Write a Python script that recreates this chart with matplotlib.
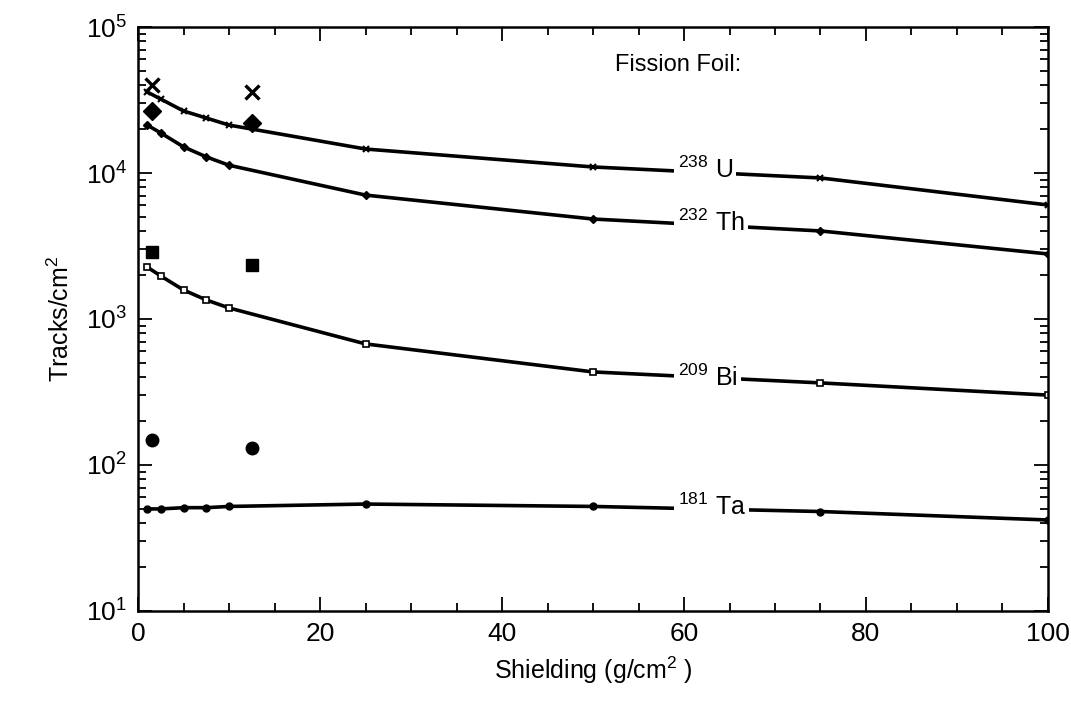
import matplotlib
matplotlib.use("Agg")
import matplotlib.pyplot as plt
import numpy as np
from matplotlib.ticker import LogLocator, MultipleLocator, NullFormatter

plt.rcParams['font.family'] = ['Liberation Sans', 'DejaVu Sans']
plt.rcParams['mathtext.fontset'] = 'custom'
plt.rcParams['mathtext.rm'] = 'Liberation Sans'
plt.rcParams['mathtext.it'] = 'Liberation Sans:italic'
plt.rcParams['mathtext.bf'] = 'Liberation Sans:bold'

# shielding depths (g/cm^2)
shielding = [1, 2.5, 5, 7.5, 10, 25, 50, 75, 100]

# calculated track densities per fission foil
u238 = [35900, 32100, 26600, 23800, 21300, 14600, 11000, 9250, 6040]
th232 = [21300, 18800, 15100, 12900, 11300, 7060, 4840, 4010, 2790]
bi209 = [2270, 1970, 1580, 1350, 1190, 675, 434, 365, 301]
ta181 = [50, 50, 51, 51, 52, 54, 52, 48, 42]

# measured points
meas_x = [1.5, 12.5]
meas_u = [40000, 35900]
meas_th = [26600, 22000]
meas_bi = [2880, 2340]
meas_ta = [148, 131]

# isotope labels: mass number, symbol, y pixel of symbol centre
labels = [
    ('238', 'U', 170),
    ('232', 'Th', 223),
    ('209', 'Bi', 378),
    ('181', 'Ta', 507),
]

fig = plt.figure(figsize=(10.71, 7.15), dpi=100)
ax = fig.add_axes([0.1289, 0.1455, 0.8496, 0.8167])

lw = 2.6
ax.plot(shielding, u238, color='black', lw=lw, marker='x', ms=5, mew=1.5)
ax.plot(shielding, th232, color='black', lw=lw, marker='D', ms=4)
ax.plot(shielding, bi209, color='black', lw=lw, marker='s', ms=5,
        mfc='white', mew=1.2)
ax.plot(shielding, ta181, color='black', lw=lw, marker='o', ms=5)

ax.plot(meas_x, meas_u, ls='none', marker='x', ms=10, mew=2.4, color='black')
ax.plot(meas_x, meas_th, ls='none', marker='D', ms=9, color='black')
ax.plot(meas_x, meas_bi, ls='none', marker='s', ms=9, color='black')
ax.plot(meas_x, meas_ta, ls='none', marker='o', ms=9, color='black')

ax.set_yscale('log')
ax.set_xlim(0, 100)
ax.set_ylim(10, 1e5)


def ypix_to_val(py):
    return 10 ** (5 - (py - 27) / 146.0)


# labels sit in gaps of the curves
for mass, sym, py in labels:
    ax.text(59.3, ypix_to_val(py), r'$^{%s}$' % mass + ' ' + sym,
            fontsize=18, ha='left', va='center',
            bbox=dict(facecolor='white', edgecolor='none', pad=2.5))

ax.text(52.4, ypix_to_val(65), 'Fission Foil:', fontsize=17,
        ha='left', va='center')

ax.xaxis.set_major_locator(MultipleLocator(20))
ax.xaxis.set_minor_locator(MultipleLocator(5))
ax.yaxis.set_major_locator(LogLocator(base=10, numticks=10))
ax.yaxis.set_minor_locator(LogLocator(base=10, subs=np.arange(2, 10), numticks=20))
ax.yaxis.set_minor_formatter(NullFormatter())

ax.tick_params(which='both', direction='in', top=True, right=True, width=1.3)
ax.tick_params(which='major', length=10, labelsize=19, pad=8)
ax.tick_params(which='minor', length=6)
for s in ax.spines.values():
    s.set_linewidth(1.8)

ax.set_xlabel(r'Shielding (g/cm$^2$ )', fontsize=18, labelpad=6)
ax.set_ylabel(r'Tracks/cm$^2$', fontsize=18, labelpad=8)

fig.savefig('out.png', dpi=100)
